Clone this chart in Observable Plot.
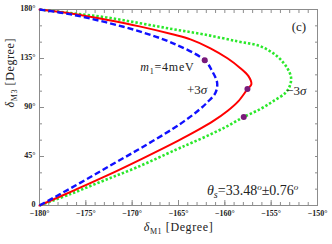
<!DOCTYPE html>
<html><head><meta charset="utf-8">
<script src="https://cdn.jsdelivr.net/npm/d3@7"></script>
<script src="https://cdn.jsdelivr.net/npm/@observablehq/plot@0.6"></script>
<style>body{margin:0;background:#fff}</style>
</head><body><div id="chart"></div>
<script>
// red solid: central value
const redD1 = [-180, -176.44, -172.77, -169.21, -165.65, -163.71, -161.55, -159.72, -158.32, -157.45, -157.13, -157.56, -158.53, -159.72, -161.23, -163.07, -165.07, -168.95, -172.75, -176.08, -180];
const redD3 = [180, 176.1, 170.6, 164.5, 157.2, 152.6, 144.4, 135.2, 126.1, 118.8, 111.5, 106.9, 95.9, 86.8, 77.7, 68.5, 59.4, 42.9, 27.4, 14.6, 0];
// blue dashed: +3 sigma
const blueD1 = [-180, -176.44, -172.77, -169.21, -165.65, -162.17, -161.37, -160.83, -161.01, -161.86, -162.93, -164.34, -165.65, -168.95, -172.39, -176.12, -180];
const blueD3 = [180, 175.2, 168.1, 159.9, 149.2, 133.4, 123.4, 112.7, 103.5, 95.0, 86.8, 77.7, 70.2, 53.3, 36.5, 18.3, 0];
// green dotted: -3 sigma
const greenD1 = [-180, -176.44, -172.77, -169.21, -165.65, -162.31, -158.67, -156.16, -154.36, -153.28, -152.85, -153.00, -153.46, -154.76, -156.16, -157.96, -159.68, -161.43, -163.51, -165.29, -169.5, -173.1, -176.6, -180];
const greenD3 = [180, 176.6, 172.7, 167.5, 162.0, 157.2, 150.8, 146.2, 137.1, 126.4, 117.2, 109.6, 103.5, 95.9, 88.6, 81.3, 73.1, 65.8, 57.8, 51.2, 35.0, 22.8, 10.7, 0];
// purple points (m1 = 4 meV)
const dotD1 = [-162.17, -157.56, -157.96];
const dotD3 = [133.4, 106.9, 81.3];
// tick values
const xMajor = [-180, -175, -170, -165, -160, -155, -150];
const yMajor = [0, 45, 90, 135, 180];
const xMinor = d3.range(-180, -149, 1);
const yMinor = d3.range(0, 181, 15);
// annotations
const annText = ["m1=4meV", "+3σ", "−3σ", "(c)", "THETA"];
const annD1 = [-166.2, -163.0, -152.3, -152.0, -157.0];
const annD3 = [127, 106, 105, 164.5, 13.7];
const annSize = [12, 13, 13, 13, 14];

const mk = (xs, ys) => xs.map((x, i) => ({x, y: ys[i]}));
const red = mk(redD1, redD3), blue = mk(blueD1, blueD3), green = mk(greenD1, greenD3);
const dots = mk(dotD1, dotD3);
const ann = annText.map((t, i) => ({t, x: annD1[i], y: annD3[i], s: annSize[i]}));
const font = "Liberation Serif, Times New Roman, serif";
const gray = "#8c8c8c";

const svg = Plot.plot({
  width: 332, height: 244,
  marginLeft: 39, marginRight: 15, marginTop: 9, marginBottom: 39,
  style: {fontFamily: font, background: "#fff", overflow: "visible"},
  x: {domain: [-180, -150]},
  y: {domain: [0, 180]},
  marks: [
    Plot.frame({stroke: gray}),
    Plot.axisX(xMinor, {anchor: "bottom", tickSize: -3, text: null, stroke: gray, label: null}),
    Plot.axisX(xMajor, {anchor: "bottom", tickSize: -5, text: null, stroke: gray, label: null}),
    Plot.axisX(xMinor, {anchor: "top", tickSize: -3, text: null, stroke: gray, label: null}),
    Plot.axisY(yMinor, {anchor: "left", tickSize: -3, text: null, stroke: gray, label: null}),
    Plot.axisY(yMajor, {anchor: "left", tickSize: -5, text: null, stroke: gray, label: null}),
    Plot.axisY(yMinor, {anchor: "right", tickSize: -3, text: null, stroke: gray, label: null}),
    Plot.axisX(xMajor, {anchor: "bottom", tickSize: 0, tickPadding: 5, fontSize: 8, fontWeight: "bold",
      tickFormat: d => "\u2212" + Math.abs(d) + "°", label: null, fill: "#222"}),
    Plot.axisY(yMajor, {anchor: "left", tickSize: 0, tickPadding: 4, fontSize: 8, fontWeight: "bold", dy: -1,
      tickFormat: d => d === 0 ? "0" : d + "°", label: null, fill: "#222"}),
    Plot.line(green, {x: "x", y: "y", stroke: "#2be82b", strokeWidth: 2.6, strokeDasharray: "2.4,2", strokeLinecap: "butt", curve: "catmull-rom"}),
    Plot.line(red, {x: "x", y: "y", stroke: "#ff0000", strokeWidth: 2, curve: "catmull-rom"}),
    Plot.line(blue, {x: "x", y: "y", stroke: "#1010ff", strokeWidth: 2.4, strokeDasharray: "6,3", strokeLinecap: "butt", curve: "catmull-rom"}),
    Plot.dot(dots, {x: "x", y: "y", r: 3, fill: "#7a1a7a", stroke: "none"}),
    Plot.text(ann, {x: "x", y: "y", text: "t", fontSize: "s", fill: "#222"}),
    Plot.text(["XLABEL"], {frameAnchor: "bottom", dy: 25, fontSize: 12, fill: "#222"}),
    Plot.text(["YLABEL"], {frameAnchor: "left", dx: -29, rotate: -90, fontSize: 12, fill: "#222"})
  ]
});

// rich formatting of labels (subscripts / italics)
svg.querySelectorAll("text").forEach(t => {
  const s = t.textContent;
  if (s === "m1=4meV") {
    t.innerHTML = '<tspan font-style="italic">m</tspan><tspan dy="3" font-size="8">1</tspan><tspan dy="-3">=4meV</tspan>';
    t.setAttribute("letter-spacing", "0.8");
  } else if (s === "+3σ" || s === "−3σ") {
    t.innerHTML = s.slice(0, 2) + '<tspan font-style="italic">σ</tspan>';
  } else if (s === "THETA") {
    t.innerHTML = '<tspan font-style="italic">θ</tspan><tspan dy="3" font-size="10" font-style="italic">s</tspan><tspan dy="-3">=33.48</tspan><tspan dy="-5" font-size="9" font-style="italic">o</tspan><tspan dy="5">±0.76</tspan><tspan dy="-5" font-size="9" font-style="italic">o</tspan>';
  } else if (s === "XLABEL") {
    t.innerHTML = '<tspan font-style="italic">δ</tspan><tspan dy="3" font-size="8">M1</tspan><tspan dy="-3"> [Degree]</tspan>';
    t.setAttribute("letter-spacing", "0.6");
  } else if (s === "YLABEL") {
    t.innerHTML = '<tspan font-style="italic">δ</tspan><tspan dy="3" font-size="8">M3</tspan><tspan dy="-3"> [Degree]</tspan>';
    t.setAttribute("letter-spacing", "0.6");
  }
});
document.getElementById("chart").appendChild(svg);
</script>
</body></html>
